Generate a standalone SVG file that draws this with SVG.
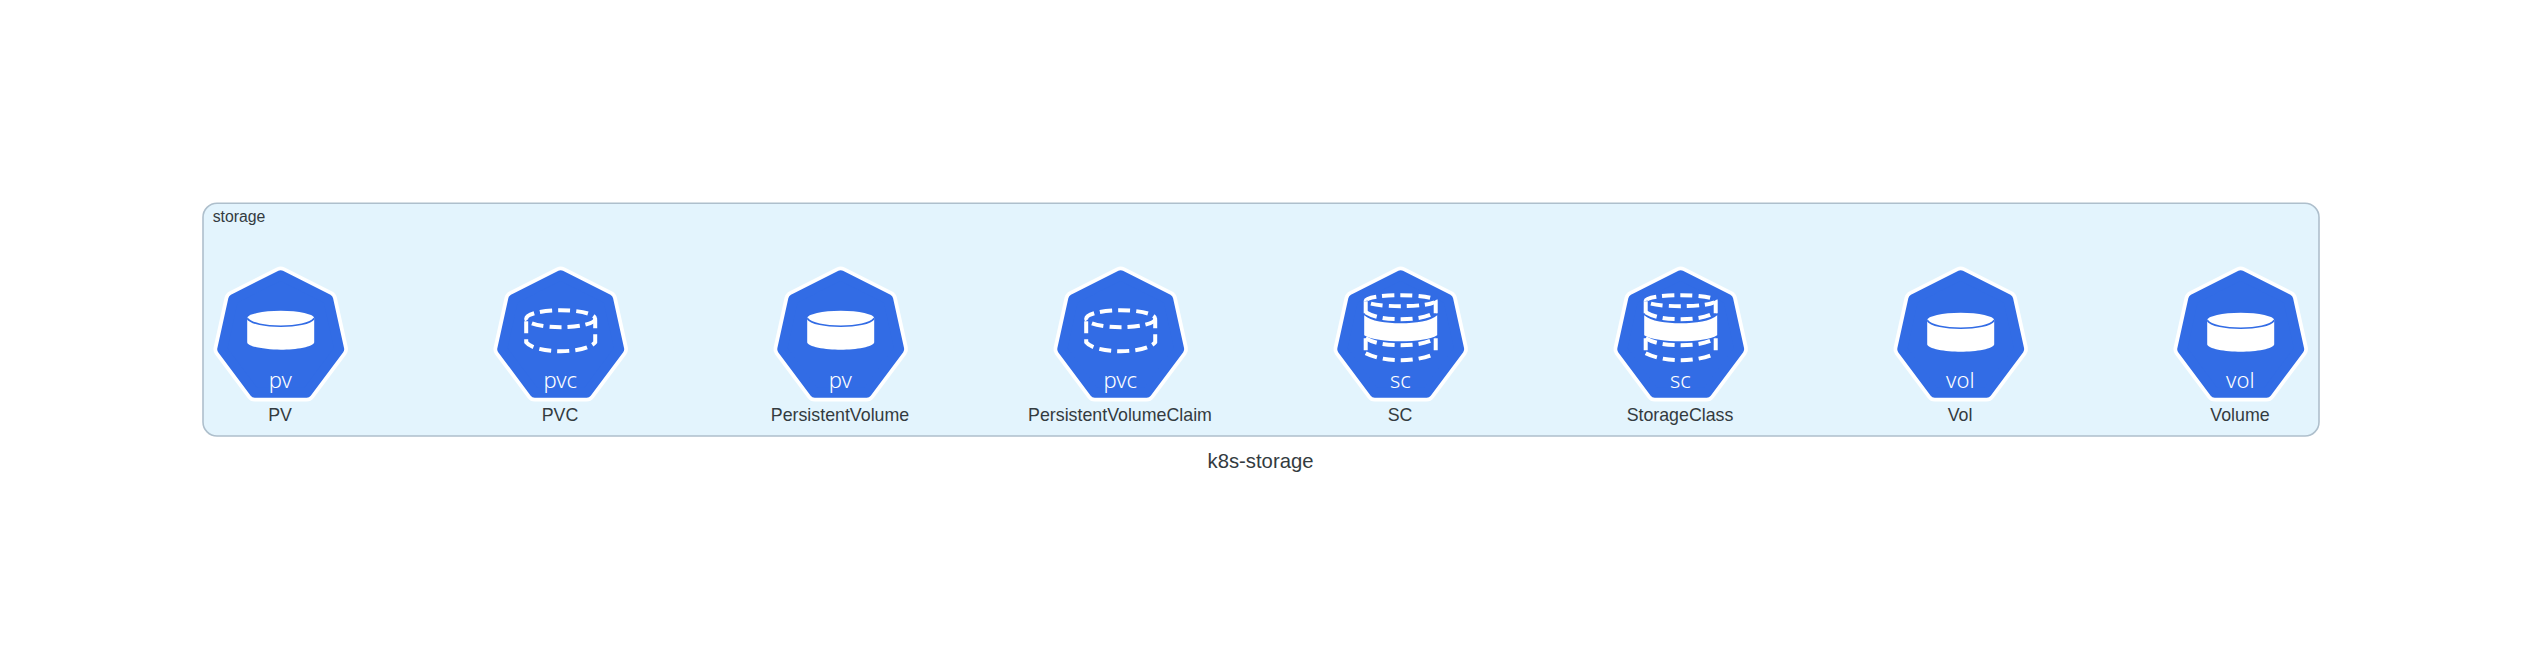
<svg xmlns="http://www.w3.org/2000/svg" xmlns:xlink="http://www.w3.org/1999/xlink" width="2521" height="672" viewBox="0 0 2521 672">
<style>
text{font-family:"Liberation Sans",Arial,sans-serif;fill:#333b3f;text-anchor:middle}
.lbl{font-size:17.8px}
.ic{font-family:"Noto Sans","Open Sans",sans-serif;fill:#fff;font-size:22px;font-weight:300}
.d{fill:none;stroke:#fff;stroke-width:4;stroke-dasharray:12 6}
.w{fill:#fff}
.bl{fill:none;stroke:#326ce5;stroke-width:1.6}
</style>
<defs>
<g id="hex">
<polygon points="0.700,-75.500 48.200,-51.500 59.200,-1.500 26.700,42 -25.300,42 -57.800,-1.500 -46.800,-51.500" fill="#fff" stroke="#fff" stroke-width="17.500" stroke-linejoin="round"/>
<polygon points="0.700,-75.500 48.200,-51.500 59.200,-1.500 26.700,42 -25.300,42 -57.800,-1.500 -46.800,-51.500" fill="#326ce5" stroke="#326ce5" stroke-width="10" stroke-linejoin="round"/>
</g>
<g id="solid">
<path class="w" d="M-33.500,-32.500A33.500,7.500 0 0 1 33.500,-32.500V-8.500C33.500,-4 15,-1 0,-1C-15,-1 -33.500,-4 -33.500,-8.500Z"/>
<path class="bl" d="M-33.500,-32.500C-30,-27 -15,-24.500 0,-24.500C15,-24.500 30,-27 33.500,-32.500"/>
</g>
<g id="dash">
<ellipse class="d" cx="0" cy="-32" rx="34.500" ry="8.500"/>
<path class="d" d="M-34.500,-29.500V-8.500C-30,-2.500 -15,0.500 0,0.500C15,0.500 30,-2.500 34.500,-8.500V-31.500"/>
</g>
<g id="sc">
<ellipse class="d" cx="0" cy="-50" rx="35" ry="5.500"/>
<path class="d" d="M-35,-49.500V-36.500M35,-49.500V-36.500"/>
<path class="d" d="M-35,-38.500C-25,-32.500 -12,-31.500 0,-31.500C12,-31.500 25,-32.500 35,-38.500"/>
<path class="w" d="M-36.500,-35.500C-30,-29.500 -15,-27.500 0,-27.500C15,-27.500 30,-29.500 36.500,-35.500V-15.500C30,-11.500 15,-9.500 0,-9.500C-15,-9.500 -30,-11.500 -36.500,-15.500Z"/>
<path class="d" d="M-35,-12.500V1.500M35,-12.500V1.500"/>
<path class="d" d="M-35,-12.500C-25,-6.500 -12,-5.500 0,-5.500C12,-5.500 25,-6.500 35,-12.500"/>
<path class="d" d="M-35,2.500C-25,7.500 -12,9.500 0,9.500C12,9.500 25,7.500 35,2.500"/>
</g>
</defs>
<rect id="storage-frame" x="203" y="203.300" width="2116" height="232.700" rx="14" ry="14" fill="#e3f4fd" stroke="#aebfcc" stroke-width="1.600"/>
<text x="239" y="221.500" font-size="15.800">storage</text>
<g id="connectors"/>
<g id="PV" transform="translate(280 350.700)"><use href="#hex"/><use href="#solid" x="0.700"/><text class="ic" x="0.300" y="37">pv</text><text class="lbl" y="70">PV</text></g>
<g id="PVC" transform="translate(560 350.700)"><use href="#hex"/><use href="#dash" x="0.700"/><text class="ic" x="0.300" y="37">pvc</text><text class="lbl" y="70">PVC</text></g>
<g id="PersistentVolume" transform="translate(840 350.700)"><use href="#hex"/><use href="#solid" x="0.700"/><text class="ic" x="0.300" y="37">pv</text><text class="lbl" y="70">PersistentVolume</text></g>
<g id="PersistentVolumeClaim" transform="translate(1120 350.700)"><use href="#hex"/><use href="#dash" x="0.700"/><text class="ic" x="0.300" y="37">pvc</text><text class="lbl" y="70">PersistentVolumeClaim</text></g>
<g id="SC" transform="translate(1400 350.700)"><use href="#hex"/><use href="#sc" x="0.700"/><text class="ic" x="0.300" y="37">sc</text><text class="lbl" y="70">SC</text></g>
<g id="StorageClass" transform="translate(1680 350.700)"><use href="#hex"/><use href="#sc" x="0.700"/><text class="ic" x="0.300" y="37">sc</text><text class="lbl" y="70">StorageClass</text></g>
<g id="Vol" transform="translate(1960 350.700)"><use href="#hex"/><use href="#solid" x="0.700" y="2"/><text class="ic" x="0.300" y="37">vol</text><text class="lbl" y="70">Vol</text></g>
<g id="Volume" transform="translate(2240 350.700)"><use href="#hex"/><use href="#solid" x="0.700" y="2"/><text class="ic" x="0.300" y="37">vol</text><text class="lbl" y="70">Volume</text></g>
<text x="1260.500" y="467.500" font-size="20.300">k8s-storage</text>
</svg>
